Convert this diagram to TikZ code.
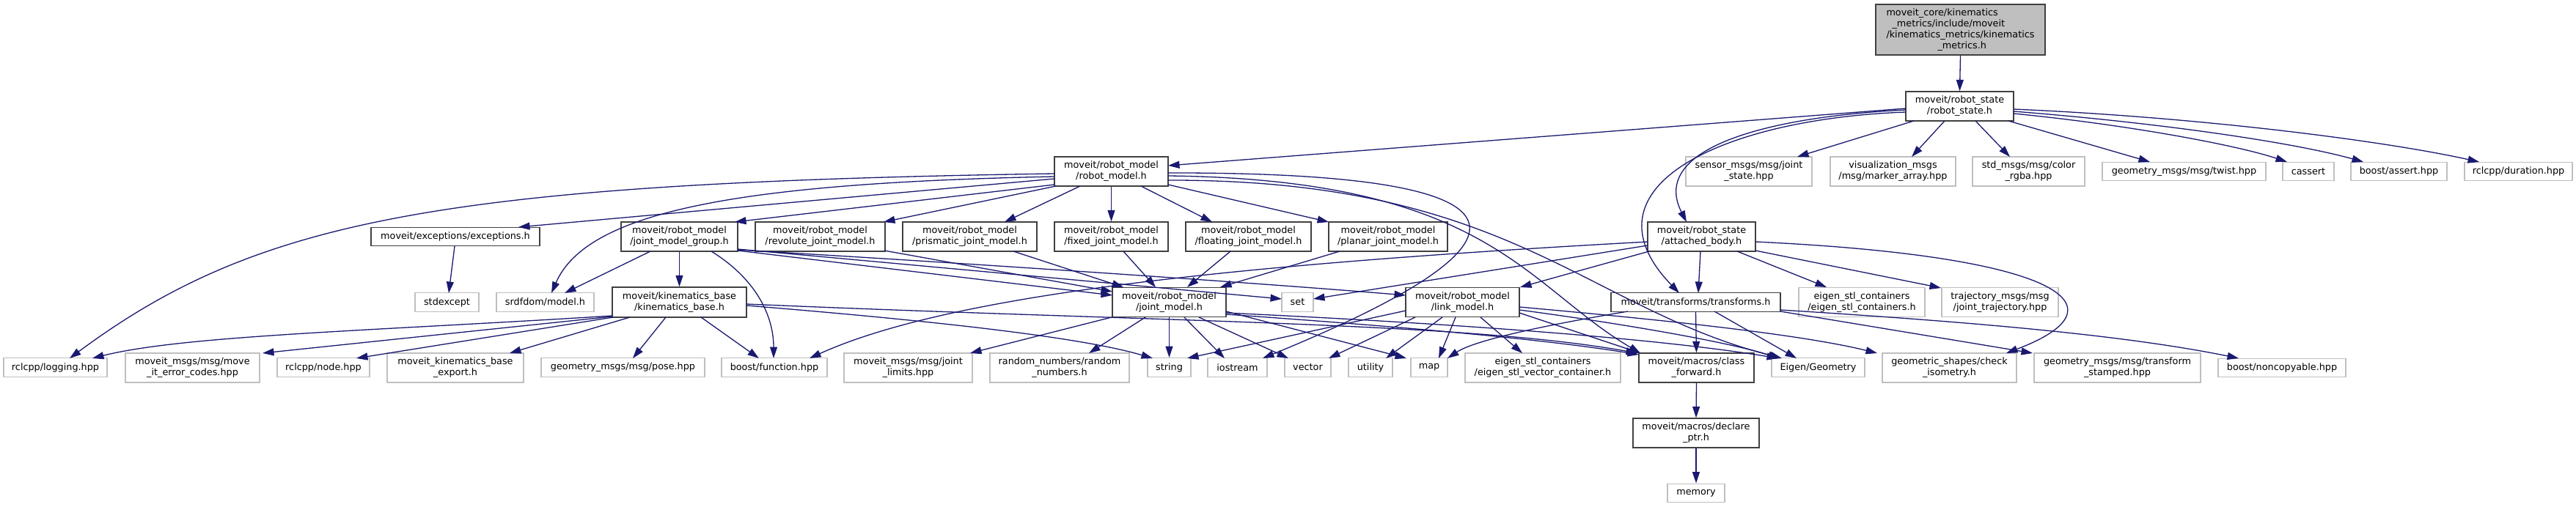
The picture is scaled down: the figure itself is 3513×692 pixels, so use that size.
\documentclass[tikz,border=0pt]{standalone}
\usepackage{fontspec}
\setmainfont{DejaVu Sans}
\usetikzlibrary{arrows.meta}
\definecolor{ecol}{HTML}{191970}
\definecolor{gborder}{HTML}{BFBFBF}
\definecolor{dborder}{HTML}{404040}
\definecolor{topfill}{HTML}{BFBFBF}
\begin{document}
\begin{tikzpicture}[x=1pt,y=-1pt,
  base/.style={align=center, inner sep=0pt, font=\fontsize{12.8}{15}\selectfont, line width=1.3pt, fill=white},
  nb/.style={base, draw=dborder},
  ng/.style={base, draw=gborder},
  one/.style={minimum height=25.5pt},
  two/.style={minimum height=40pt},
  edge/.style={draw=ecol, line width=1.3pt, -{Triangle[length=15.5pt,width=10pt]}}
]
\fill[white] (0,0) rectangle (3513,692);
\path[use as bounding box] (0,0) rectangle (3513,692);

% ---------- nodes ----------
\node[nb, fill=topfill, minimum width=231pt, minimum height=69pt, align=left] (top) at (2673.5,40.5)
  {moveit\_core/kinematics\\\hspace*{8pt}\_metrics/include/moveit\\/kinematics\_metrics/kinematics\\\hspace*{70pt}\_metrics.h};
\node[nb,two,minimum width=147pt] (rs) at (2672.5,145) {moveit/robot\_state\\/robot\_state.h};
\node[nb,two,minimum width=155pt] (rm) at (1515.5,234) {moveit/robot\_model\\/robot\_model.h};
\node[ng,two,minimum width=172pt] (js) at (2385,234) {sensor\_msgs/msg/joint\\\_state.hpp};
\node[ng,two,minimum width=171pt] (ma) at (2581.5,234) {visualization\_msgs\\/msg/marker\_array.hpp};
\node[ng,two,minimum width=153pt] (cr) at (2766.5,234) {std\_msgs/msg/color\\\_rgba.hpp};
\node[ng,one,minimum width=223pt] (tw) at (2978.5,234) {geometry\_msgs/msg/twist.hpp};
\node[ng,one,minimum width=70pt] (ca) at (3148,234) {cassert};
\node[ng,one,minimum width=131pt] (ba) at (3271.5,234) {boost/assert.hpp};
\node[ng,one,minimum width=147pt] (du) at (3434.5,234) {rclcpp/duration.hpp};

\node[nb,one,minimum width=230pt] (ex) at (621,323) {moveit/exceptions/exceptions.h};
\node[nb,two,minimum width=159pt] (jmg) at (926.5,323) {moveit/robot\_model\\/joint\_model\_group.h};
\node[nb,two,minimum width=177pt] (rev) at (1118.5,323) {moveit/robot\_model\\/revolute\_joint\_model.h};
\node[nb,two,minimum width=183pt] (pri) at (1322.5,323) {moveit/robot\_model\\/prismatic\_joint\_model.h};
\node[nb,two,minimum width=155pt] (fix) at (1515.5,323) {moveit/robot\_model\\/fixed\_joint\_model.h};
\node[nb,two,minimum width=171pt] (flo) at (1702.5,323) {moveit/robot\_model\\/floating\_joint\_model.h};
\node[nb,two,minimum width=162pt] (pla) at (1893,323) {moveit/robot\_model\\/planar\_joint\_model.h};
\node[nb,two,minimum width=147pt] (ab) at (2320.5,323) {moveit/robot\_state\\/attached\_body.h};

\node[ng,one,minimum width=87pt] (se) at (609.5,412.5) {stdexcept};
\node[ng,one,minimum width=133pt] (sr) at (743.5,412.5) {srdfdom/model.h};
\node[nb,two,minimum width=183pt,minimum height=41pt] (kb) at (926.5,412.5) {moveit/kinematics\_base\\/kinematics\_base.h};
\node[nb,two,minimum width=155pt] (jm) at (1594.5,412.5) {moveit/robot\_model\\/joint\_model.h};
\node[ng,one,minimum width=43pt] (set) at (1769.5,412.5) {set};
\node[nb,two,minimum width=155pt] (lm) at (1994.5,412.5) {moveit/robot\_model\\/link\_model.h};
\node[nb,one,minimum width=231pt] (tf) at (2312.5,412.5) {moveit/transforms/transforms.h};
\node[ng,two,minimum width=172pt] (esc) at (2539,412.5) {eigen\_stl\_containers\\/eigen\_stl\_containers.h};
\node[ng,two,minimum width=159pt] (tj) at (2727.5,412.5) {trajectory\_msgs/msg\\/joint\_trajectory.hpp};

\node[ng,one,minimum width=141pt] (lg) at (75.5,501.5) {rclcpp/logging.hpp};
\node[ng,two,minimum width=183pt] (ec) at (262.5,502) {moveit\_msgs/msg/move\\\_it\_error\_codes.hpp};
\node[ng,one,minimum width=126pt] (nd) at (441,501.5) {rclcpp/node.hpp};
\node[ng,two,minimum width=186pt] (ke) at (621,502) {moveit\_kinematics\_base\\\_export.h};
\node[ng,one,minimum width=223pt] (po) at (849.5,501.5) {geometry\_msgs/msg/pose.hpp};
\node[ng,one,minimum width=144pt] (bf) at (1056,501.5) {boost/function.hpp};
\node[ng,two,minimum width=175pt] (jl) at (1238.5,502) {moveit\_msgs/msg/joint\\\_limits.hpp};
\node[ng,two,minimum width=190pt] (rn) at (1445,502) {random\_numbers/random\\\_numbers.h};
\node[ng,one,minimum width=59pt] (st) at (1594.5,501.5) {string};
\node[ng,one,minimum width=81pt] (io) at (1687.5,501.5) {iostream};
\node[ng,one,minimum width=63pt] (ve) at (1783.5,501.5) {vector};
\node[ng,one,minimum width=60pt] (ut) at (1869,501.5) {utility};
\node[ng,one,minimum width=50pt] (mp) at (1949,501.5) {map};
\node[ng,two,minimum width=212pt] (esv) at (2104,502) {eigen\_stl\_containers\\/eigen\_stl\_vector\_container.h};
\node[nb,two,minimum width=157pt] (cf) at (2313.5,502) {moveit/macros/class\\\_forward.h};
\node[ng,one,minimum width=127pt] (eg) at (2479.5,501.5) {Eigen/Geometry};
\node[ng,two,minimum width=183pt] (ci) at (2658.5,502) {geometric\_shapes/check\\\_isometry.h};
\node[ng,two,minimum width=227pt] (ts) at (2887.5,502) {geometry\_msgs/msg/transform\\\_stamped.hpp};
\node[ng,one,minimum width=174pt] (nc) at (3112,502) {boost/noncopyable.hpp};
\node[nb,two,minimum width=172pt] (dp) at (2313,591) {moveit/macros/declare\\\_ptr.h};
\node[ng,one,minimum width=78pt] (me) at (2313,673) {memory};

% ---------- edges ----------
\draw[edge] (top.south) -- (rs.north);
% robot_state
\draw[edge] ([shift={(-73.5,3)}]rs.center) -- ([shift={(77.5,-8)}]rm.center);
\draw[edge] ([shift={(-73.5,5)}]rs.center) .. controls (2400,160) and (2250,205) .. ([shift={(-20.5,-20)}]ab.center);
\draw[edge] ([shift={(-73.5,8)}]rs.center) .. controls (2350,162) and (2150,255) .. ([shift={(-22.5,-12.5)}]tf.center);
\draw[edge] ([shift={(-62.5,20)}]rs.center) -- ([shift={(66,-20)}]js.center);
\draw[edge] ([shift={(-20.5,20)}]rs.center) -- ([shift={(25.5,-20)}]ma.center);
\draw[edge] ([shift={(21.5,20)}]rs.center) -- ([shift={(-25.5,-20)}]cr.center);
\draw[edge] ([shift={(66.5,20)}]rs.center) -- ([shift={(-46.5,-13)}]tw.center);
\draw[edge] ([shift={(73.5,10)}]rs.center) .. controls (2900,170) and (3050,198) .. ([shift={(-29,-13)}]ca.center);
\draw[edge] ([shift={(73.5,7)}]rs.center) .. controls (2950,168) and (3130,195) .. ([shift={(-48.5,-13)}]ba.center);
\draw[edge] ([shift={(73.5,4)}]rs.center) .. controls (3000,160) and (3250,192) .. ([shift={(-53.5,-13)}]du.center);
% robot_model
\draw[edge] ([shift={(-77.5,3)}]rm.center) .. controls (600,250) and (350,300) .. ([shift={(19.5,-12.5)}]lg.center);
\draw[edge] ([shift={(-77.5,10)}]rm.center) -- ([shift={(86,-13)}]ex.center);
\draw[edge] ([shift={(-77.5,7)}]rm.center) .. controls (1000,250) and (800,290) .. ([shift={(8.5,-12.5)}]sr.center);
\draw[edge] ([shift={(-77.5,18)}]rm.center) -- ([shift={(75.5,-20)}]jmg.center);
\draw[edge] ([shift={(-75.5,20)}]rm.center) -- ([shift={(86.5,-20)}]rev.center);
\draw[edge] ([shift={(-42.5,20)}]rm.center) -- ([shift={(47.5,-20)}]pri.center);
\draw[edge] (rm.south) -- (fix.north);
\draw[edge] ([shift={(40.5,20)}]rm.center) -- ([shift={(-49.5,-20)}]flo.center);
\draw[edge] ([shift={(77.5,18)}]rm.center) -- ([shift={(-81,-20)}]pla.center);
\draw[edge] ([shift={(77.5,2)}]rm.center) .. controls (2120,235) and (2110,330) .. ([shift={(34.5,-12.5)}]io.center);
\draw[edge] ([shift={(77.5,6)}]rm.center) .. controls (2030,245) and (2080,390) .. ([shift={(-76.5,-20)}]cf.center);
\draw[edge] ([shift={(77.5,12)}]rm.center) .. controls (2060,245) and (2160,420) .. ([shift={(-49.5,-12.5)}]eg.center);
% exceptions
\draw[edge] ([shift={(-1,13)}]ex.center) -- ([shift={(2.5,-12.5)}]se.center);
% joint_model_group
\draw[edge] ([shift={(-39.5,20)}]jmg.center) -- ([shift={(26.5,-12.5)}]sr.center);
\draw[edge] (jmg.south) -- (kb.north);
\draw[edge] ([shift={(43.5,20)}]jmg.center) .. controls (1030,380) and (1055,430) .. ([shift={(-1,-12.5)}]bf.center);
\draw[edge] ([shift={(79.5,19)}]jmg.center) -- ([shift={(-77.5,-9.5)}]jm.center);
\draw[edge] ([shift={(79.5,17)}]jmg.center) .. controls (1250,362) and (1550,390) .. ([shift={(-21.5,-4.5)}]set.center);
\draw[edge] ([shift={(79.5,18)}]jmg.center) .. controls (1300,358) and (1700,385) .. ([shift={(-77.5,-9.5)}]lm.center);
% kinematics_base
\draw[edge] ([shift={(-91.5,18.5)}]kb.center) .. controls (500,452) and (250,458) .. ([shift={(50.5,-12.5)}]lg.center);
\draw[edge] ([shift={(-91.5,19.5)}]kb.center) -- ([shift={(95.5,-20)}]ec.center);
\draw[edge] ([shift={(-90.5,20.5)}]kb.center) -- ([shift={(45,-12.5)}]nd.center);
\draw[edge] ([shift={(-67.5,20.5)}]kb.center) -- ([shift={(74,-20)}]ke.center);
\draw[edge] ([shift={(-18.5,20.5)}]kb.center) -- ([shift={(13.5,-12.5)}]po.center);
\draw[edge] ([shift={(29.5,20.5)}]kb.center) -- ([shift={(-21,-12.5)}]bf.center);
\draw[edge] ([shift={(91.5,4.5)}]kb.center) .. controls (1300,440) and (1480,462) .. ([shift={(-22.5,-12.5)}]st.center);
\draw[edge] ([shift={(91.5,2.5)}]kb.center) .. controls (1600,440) and (2000,440) .. ([shift={(-80.5,-20)}]cf.center);
% joint models -> joint_model
\draw[edge] ([shift={(87.5,19)}]rev.center) -- ([shift={(-77.5,-14.5)}]jm.center);
\draw[edge] ([shift={(59.5,20)}]pri.center) -- ([shift={(-62.5,-20.5)}]jm.center);
\draw[edge] ([shift={(16.5,20)}]fix.center) -- ([shift={(-18.5,-20.5)}]jm.center);
\draw[edge] ([shift={(-24.5,20)}]flo.center) -- ([shift={(24.5,-20.5)}]jm.center);
\draw[edge] ([shift={(-66,20)}]pla.center) -- ([shift={(69.5,-20.5)}]jm.center);
% joint_model
\draw[edge] ([shift={(-78.5,20.5)}]jm.center) -- ([shift={(84.5,-20)}]jl.center);
\draw[edge] ([shift={(-32.5,20.5)}]jm.center) -- ([shift={(40,-20)}]rn.center);
\draw[edge] (jm.south) -- (st.north);
\draw[edge] ([shift={(20.5,20.5)}]jm.center) -- ([shift={(-17.5,-12.5)}]io.center);
\draw[edge] ([shift={(40.5,20.5)}]jm.center) -- ([shift={(-26.5,-12.5)}]ve.center);
\draw[edge] ([shift={(77.5,12.5)}]jm.center) -- ([shift={(-31,-12.5)}]mp.center);
\draw[edge] ([shift={(77.5,16.5)}]jm.center) .. controls (1900,445) and (2100,462) .. ([shift={(-78.5,-18)}]cf.center);
\draw[edge] ([shift={(77.5,14.5)}]jm.center) .. controls (1950,440) and (2250,460) .. ([shift={(-54.5,-12.5)}]eg.center);
% link_model
\draw[edge] ([shift={(-77.5,11.5)}]lm.center) -- ([shift={(24.5,-12.5)}]st.center);
\draw[edge] ([shift={(-64.5,20.5)}]lm.center) -- ([shift={(28.5,-12.5)}]ve.center);
\draw[edge] ([shift={(-27.5,20.5)}]lm.center) -- ([shift={(21,-12.5)}]ut.center);
\draw[edge] ([shift={(-9.5,20.5)}]lm.center) -- ([shift={(13,-12.5)}]mp.center);
\draw[edge] ([shift={(24.5,20.5)}]lm.center) -- ([shift={(-28,-20)}]esv.center);
\draw[edge] ([shift={(77.5,14.5)}]lm.center) -- ([shift={(-76.5,-20)}]cf.center);
\draw[edge] ([shift={(77.5,10.5)}]lm.center) .. controls (2200,440) and (2350,465) .. ([shift={(-52.5,-12.5)}]eg.center);
\draw[edge] ([shift={(77.5,6.5)}]lm.center) .. controls (2250,435) and (2450,455) .. ([shift={(-98.5,-20)}]ci.center);
% transforms
\draw[edge] ([shift={(-92.5,12.5)}]tf.center) .. controls (2100,445) and (2010,465) .. ([shift={(25,-12.5)}]mp.center);
\draw[edge] (tf.south) -- (cf.north);
\draw[edge] ([shift={(25.5,12.5)}]tf.center) -- ([shift={(-29.5,-12.5)}]eg.center);
\draw[edge] ([shift={(115.5,12.5)}]tf.center) -- ([shift={(-115.5,-20)}]ts.center);
\draw[edge] ([shift={(115.5,10.5)}]tf.center) .. controls (2700,440) and (2900,458) .. ([shift={(-59,-13)}]nc.center);
% attached_body
\draw[edge] ([shift={(-73.5,7)}]ab.center) .. controls (1700,360) and (1300,400) .. ([shift={(48,-12.5)}]bf.center);
\draw[edge] ([shift={(-73.5,12)}]ab.center) -- ([shift={(21.5,-4.5)}]set.center);
\draw[edge] ([shift={(-71.5,20)}]ab.center) -- ([shift={(78.5,-20.5)}]lm.center);
\draw[edge] ([shift={(-1.5,20)}]ab.center) -- ([shift={(3.5,-12.5)}]tf.center);
\draw[edge] ([shift={(48.5,20)}]ab.center) -- ([shift={(-48,-20.5)}]esc.center);
\draw[edge] ([shift={(73.5,19)}]ab.center) -- ([shift={(-80.5,-19.5)}]tj.center);
\draw[edge] ([shift={(73.5,7)}]ab.center) .. controls (2820,350) and (2900,420) .. ([shift={(77.5,-20)}]ci.center);
% macros
\draw[edge] (cf.south) -- (dp.north);
\draw[edge] (dp.south) -- (me.north);
\end{tikzpicture}
\end{document}
